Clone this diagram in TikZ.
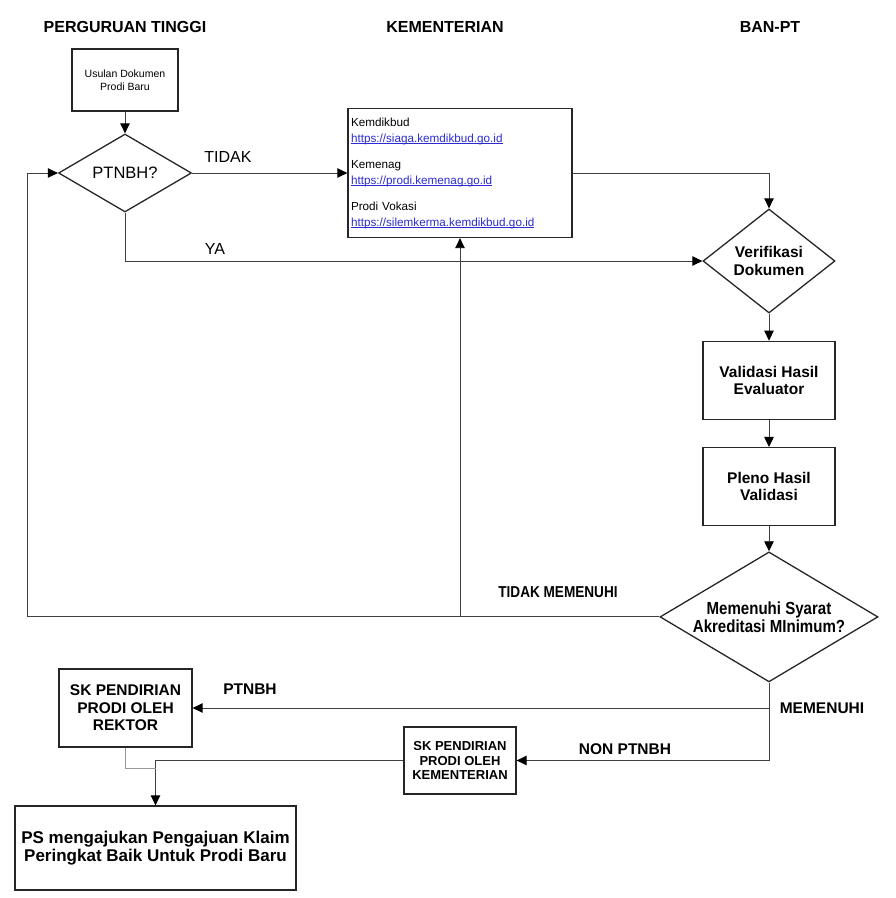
\documentclass[tikz,border=0pt]{standalone}
\usepackage{fontspec}
\setmainfont{Liberation Sans}
\newfontfamily\narrowsf[FakeStretch=0.86]{Liberation Sans}
\usetikzlibrary{shapes.geometric, arrows.meta, positioning, calc}
\definecolor{linkblue}{HTML}{2B2BD0}
\newcommand{\weblink}[1]{\textcolor{linkblue}{\setbox0\hbox{#1}%
    \rlap{\rule[-1.6pt]{\wd0}{0.6pt}}\box0}}

\begin{document}
\begin{tikzpicture}[x=1pt, y=-1pt,
    headlbl/.style={font=\bfseries\fontsize{16}{19}\selectfont},
    procbox/.style={rectangle,draw=black!85,line width=1.3pt,inner sep=1pt,
        align=center},
    decbox/.style={diamond,draw=black!85,line width=1.3pt,inner sep=0pt,
        align=center},
    boldtxt/.style={font=\bfseries\fontsize{15.5}{17.5}\selectfont},
    plaintxt/.style={font=\fontsize{16}{19}\selectfont},
    arrow/.style={-{Triangle[length=10pt,width=9.5pt,color=black]},
        draw=black!75,line width=0.9pt},
    lightline/.style={draw=black!40,line width=0.9pt}
]
\useasboundingbox (0,0) rectangle (896,898);
% column headers
\node[headlbl] (hdpt)  at (125,27) {PERGURUAN TINGGI};
\node[headlbl] (hdkem) at (445,27) {KEMENTERIAN};
\node[headlbl] (hdban) at (770,27) {BAN-PT};
% perguruan tinggi
\node[procbox, minimum width=106pt, minimum height=62pt,
    font=\fontsize{10.5}{13.5}\selectfont] (usulan) at (125,80)
    {Usulan Dokumen\\Prodi Baru};
\node[decbox, aspect=1.7, minimum width=133pt, minimum height=78pt,
    font=\fontsize{16.5}{20}\selectfont] (ptnbh) at (125,173) {PTNBH?};
% kementerian
\node[procbox, minimum width=224pt, minimum height=129pt, text width=218pt,
    align=left, font=\fontsize{11.7}{16}\selectfont] (kem) at (460,173)
    {Kemdikbud\\\weblink{https://siaga.kemdikbud.go.id}\\[10pt]
     Kemenag\\\weblink{https://prodi.kemenag.go.id}\\[10pt]
     Prodi Vokasi\\\weblink{https://silemkerma.kemdikbud.go.id}};
% ban-pt column
\node[decbox, aspect=1.27, minimum width=132pt, minimum height=104pt,
    boldtxt] (verif) at (769,261) {Verifikasi\\Dokumen};
\node[procbox, minimum width=132pt, minimum height=78pt, boldtxt,
    below=27pt of verif] (valid) {Validasi Hasil\\Evaluator};
\node[procbox, minimum width=132pt, minimum height=78pt, boldtxt,
    below=27pt of valid] (pleno) {Pleno Hasil\\Validasi};
\node[decbox, aspect=1.68, minimum width=218pt, minimum height=130pt,
    font=\narrowsf\bfseries\fontsize{17.5}{18}\selectfont,
    below=25pt of pleno] (syarat) {Memenuhi Syarat\\Akreditasi MInimum?};
% penetapan
\node[procbox, minimum width=133pt, minimum height=78pt, boldtxt]
    (skrektor) at (125.5,708) {SK PENDIRIAN\\PRODI OLEH\\REKTOR};
\node[procbox, minimum width=112pt, minimum height=67pt,
    font=\bfseries\fontsize{13}{14.5}\selectfont]
    (skkem) at (460,760.5) {SK PENDIRIAN\\PRODI OLEH\\KEMENTERIAN};
\node[procbox, minimum width=281pt, minimum height=84pt,
    font=\bfseries\fontsize{17}{18}\selectfont] (klaim) at (155.5,848)
    {PS mengajukan Pengajuan Klaim\\Peringkat Baik Untuk Prodi Baru};
% connectors
\coordinate (back) at (27,0);
\draw[arrow] (usulan) -- (ptnbh);
\draw[arrow] (ptnbh) -- (kem);
\draw[arrow] (kem.east) -| (verif.north);
\draw[arrow] (ptnbh.south) |- (verif.west);
\draw[arrow] (verif) -- (valid);
\draw[arrow] (valid) -- (pleno);
\draw[arrow] (pleno) -- (syarat);
\draw[arrow] (syarat.west) -| (back |- ptnbh.west) -- (ptnbh.west);
\draw[arrow] (kem.south |- syarat.west) -- (kem.south);
\draw[arrow] (syarat.south) |- (skkem.east);
\draw[arrow] (syarat.south |- skrektor.east) -- (skrektor.east);
\draw[arrow] (skkem.west) -| (klaim.north);
\draw[lightline] (skrektor.south) |- ($(klaim.north)+(0,-37)$);
% branch labels
\node[plaintxt] (lbltidak) at (228,157) {TIDAK};
\node[plaintxt] (lblya) at (215,249) {YA};
\node[font=\narrowsf\bfseries\fontsize{15.8}{18}\selectfont]
    (lbltm) at (558,592) {TIDAK MEMENUHI};
\node[boldtxt] (lblmem) at (822,708) {MEMENUHI};
\node[boldtxt] (lblptnbh) at (250,689) {PTNBH};
\node[boldtxt] (lblnon) at (625,749) {NON PTNBH};
\end{tikzpicture}
\end{document}
